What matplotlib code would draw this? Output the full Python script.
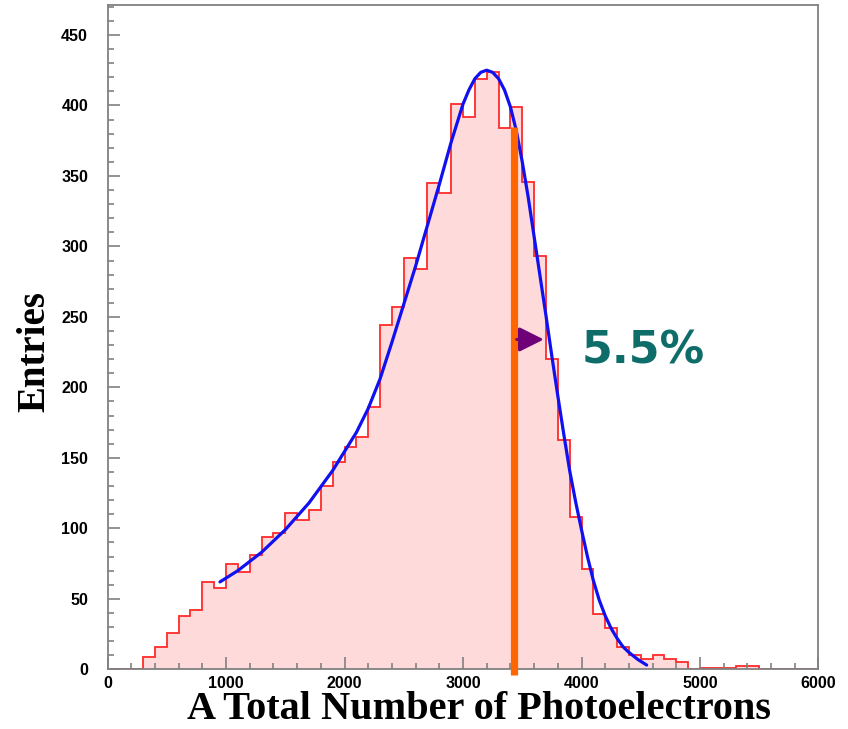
import numpy as np
import matplotlib.pyplot as plt
from matplotlib.ticker import MultipleLocator

# histogram of total photoelectrons, 100 p.e. bins from 0 to 6000
bin_edges = np.arange(0, 6001, 100)
entries = [0, 0, 0, 9, 16, 26, 38, 42, 62, 58,
           75, 69, 81, 94, 97, 111, 106, 113, 130, 147,
           158, 165, 186, 244, 257, 292, 284, 345, 338, 401,
           392, 419, 424, 384, 399, 346, 293, 220, 163, 108,
           71, 39, 29, 16, 10, 7, 10, 7, 5, 0,
           1, 1, 1, 2, 2, 0, 0, 0, 0, 0]

# fitted curve, sampled
fit_x = [949, 1100, 1300, 1500, 1700, 1900, 2100, 2200, 2300, 2400,
         2500, 2600, 2700, 2800, 2900, 3000, 3050, 3100, 3150, 3200,
         3250, 3300, 3350, 3400, 3450, 3500, 3550, 3600, 3650, 3700,
         3750, 3800, 3850, 3900, 3950, 4000, 4050, 4100, 4150, 4200,
         4250, 4300, 4350, 4400, 4475, 4550]
fit_y = [62, 70, 83, 99, 118, 141, 168, 185, 206, 232,
         259, 286, 315, 344, 374, 401, 411, 419, 423.5, 425,
         423.5, 419, 411, 399, 382, 360, 335, 307, 279, 251,
         222, 194, 167, 141, 119, 99, 80, 63, 49, 38,
         29, 22, 16, 12, 7, 3]

# peak position marker and width arrow
peak_x = 3430
peak_top = 385
arrow_x = [3430, 3705]
arrow_y = 234
width_label = "5.5%"

fig = plt.figure(figsize=(8.48, 7.29), dpi=100)
ax = fig.add_axes([0.1268, 0.0819, 0.8384, 0.9117])

ax.stairs(entries, bin_edges, fill=True, color="#ffdada", linewidth=0)
ax.stairs(entries, bin_edges, color="#ff2a2a", linewidth=1.3)
ax.plot(fit_x, fit_y, color="#1010f0", linewidth=2.3, solid_capstyle="round", zorder=4)

ax.plot([peak_x, peak_x], [-4, peak_top], color="#ff6600", linewidth=5.2,
        solid_capstyle="butt", clip_on=False, zorder=5)
ax.annotate("", xy=(arrow_x[1], arrow_y), xytext=(arrow_x[0], arrow_y),
            arrowprops=dict(arrowstyle="-|>,head_length=1.5,head_width=0.75",
                            color="#6e0078", lw=2.2), zorder=6)
ax.text(4000, arrow_y - 8, width_label, color="#0f6d69", fontsize=32,
        family="DejaVu Sans", fontweight="bold", va="center", ha="left")

ax.set_xlim(0, 6000)
ax.set_ylim(0, 471.5)
ax.xaxis.set_major_locator(MultipleLocator(1000))
ax.xaxis.set_minor_locator(MultipleLocator(200))
ax.yaxis.set_major_locator(MultipleLocator(50))
ax.yaxis.set_minor_locator(MultipleLocator(10))
ax.tick_params(which="both", direction="in", color="#808080", width=1.2)
ax.tick_params(which="major", length=8.5)
ax.tick_params(which="minor", length=4.3)
ax.tick_params(axis="y", pad=14)
ax.tick_params(axis="x", pad=5)
for lab in ax.get_xticklabels() + ax.get_yticklabels():
    lab.set_family("Liberation Sans")
    lab.set_fontweight("bold")
    lab.set_fontsize(11.5)
for s in ax.spines.values():
    s.set_color("#808080")
    s.set_linewidth(1.3)

fig.text(0.5654, 0.0135, "A Total Number of Photoelectrons", family="Liberation Serif",
         fontweight="bold", fontsize=29, ha="center", va="baseline")
fig.text(0.041, 0.518, "Entries", family="Liberation Serif", fontweight="bold",
         fontsize=28, rotation=90, ha="center", va="center")

fig.savefig("out.png", dpi=100)
